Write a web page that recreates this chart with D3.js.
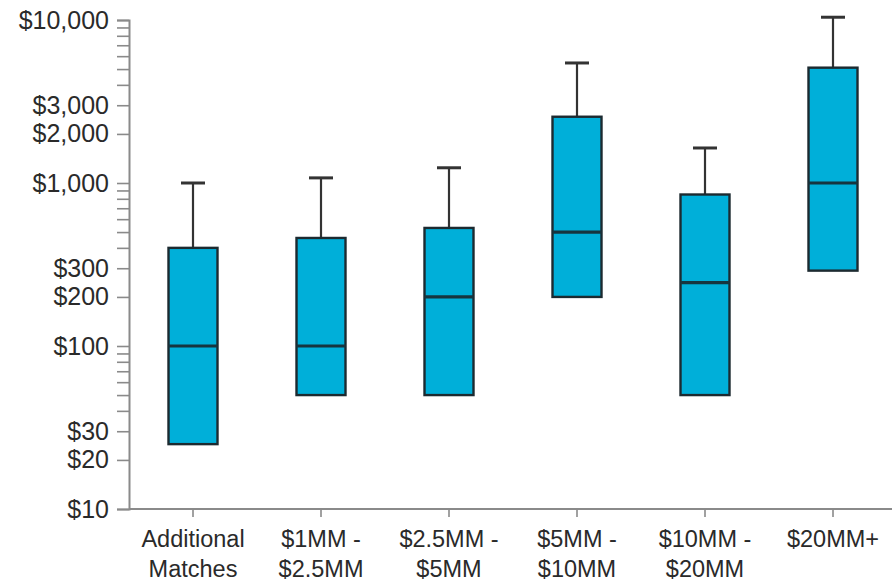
<!DOCTYPE html>
<html>
<head>
<meta charset="utf-8">
<script src="https://cdn.jsdelivr.net/npm/d3@7"></script>
<style>
  html, body { margin: 0; padding: 0; background: #fff; }
  svg { display: block; font-family: "Liberation Sans", Arial, sans-serif; }
</style>
</head>
<body>
<svg id="chart" width="892" height="581"></svg>
<script>
// Price-band groups along the x axis (each label split over lines)
const categories = ["Additional Matches", "$1MM - $2.5MM", "$2.5MM - $5MM", "$5MM - $10MM", "$10MM - $20MM", "$20MM+"];
const categoryLines = [["Additional", "Matches"], ["$1MM -", "$2.5MM"], ["$2.5MM -", "$5MM"], ["$5MM -", "$10MM"], ["$10MM -", "$20MM"], ["$20MM+"]];

// Box statistics per group (dollars)
const boxLow    = [25, 50, 50, 200, 50, 290];
const boxMedian = [100, 100, 200, 500, 245, 1000];
const boxHigh   = [400, 460, 530, 2550, 850, 5100];
const whiskerTop = [1000, 1075, 1240, 5450, 1640, 10400];

// Labelled ticks on the log axis
const yTickLabels = [10, 20, 30, 100, 200, 300, 1000, 2000, 3000, 10000];

const svg = d3.select("#chart");
const y = d3.scaleLog().domain([10, 10000]).range([509, 20]);
const x = d3.scaleBand().domain(categories).range([129, 897]).padding(0);

const axisColor = "#8a8a8a";
const textColor = "#2a2a2a";

// All minor ticks 1..9 x 10^k
const allTicks = [];
for (let k = 1; k <= 3; k++) for (let m = 1; m <= 9; m++) allTicks.push(m * Math.pow(10, k));
allTicks.push(10000);

const fmt = d3.format("$,");
const yAxis = d3.axisLeft(y)
  .tickValues(allTicks)
  .tickSize(12)
  .tickPadding(8)
  .tickFormat(d => yTickLabels.includes(d) ? fmt(d) : "");

const gy = svg.append("g").attr("transform", "translate(129,0)").call(yAxis);
gy.select(".domain").attr("stroke", axisColor).attr("stroke-width", 2);
gy.selectAll(".tick line").attr("stroke", axisColor).attr("stroke-width", 1.6);
gy.selectAll(".tick text").attr("font-size", 25).attr("fill", textColor).attr("font-family", "Liberation Sans, Arial, sans-serif");

// X axis
const xAxis = d3.axisBottom(x).tickSize(8).tickSizeOuter(0).tickFormat("");
const gx = svg.append("g").attr("transform", "translate(0,509)").call(xAxis);
gx.select(".domain").attr("stroke", axisColor).attr("stroke-width", 2).attr("d", "M129,0H892");
gx.selectAll(".tick line").attr("stroke", axisColor).attr("stroke-width", 1.6);

gx.selectAll(".tick").each(function (d, i) {
  const t = d3.select(this).append("text")
    .attr("text-anchor", "middle")
    .attr("font-size", 23.5)
    .attr("fill", textColor)
    .attr("font-family", "Liberation Sans, Arial, sans-serif");
  categoryLines[i].forEach((line, j) => {
    t.append("tspan").attr("x", 0).attr("y", 38 + j * 30).text(line);
  });
});

// Boxes
const boxW = 49;
const capW = 24;
const fill = "#00afd9";
const stroke = "#1c2a30";

const groups = svg.append("g").selectAll("g.box")
  .data(categories.map((c, i) => ({ c, i })))
  .join("g").attr("class", "box")
  .attr("transform", d => `translate(${x(d.c) + x.bandwidth() / 2},0)`);

// whisker stem and cap
groups.append("line")
  .attr("x1", 0).attr("x2", 0)
  .attr("y1", d => y(whiskerTop[d.i])).attr("y2", d => y(boxHigh[d.i]))
  .attr("stroke", "#333").attr("stroke-width", 2.2);
groups.append("line")
  .attr("x1", -capW / 2).attr("x2", capW / 2)
  .attr("y1", d => y(whiskerTop[d.i])).attr("y2", d => y(whiskerTop[d.i]))
  .attr("stroke", "#333").attr("stroke-width", 3);

groups.append("rect")
  .attr("x", -boxW / 2).attr("width", boxW)
  .attr("y", d => y(boxHigh[d.i]))
  .attr("height", d => y(boxLow[d.i]) - y(boxHigh[d.i]))
  .attr("fill", fill).attr("stroke", stroke).attr("stroke-width", 2.4);

groups.append("line")
  .attr("x1", -boxW / 2).attr("x2", boxW / 2)
  .attr("y1", d => y(boxMedian[d.i])).attr("y2", d => y(boxMedian[d.i]))
  .attr("stroke", "#16353f").attr("stroke-width", 3.2);
</script>
</body>
</html>
